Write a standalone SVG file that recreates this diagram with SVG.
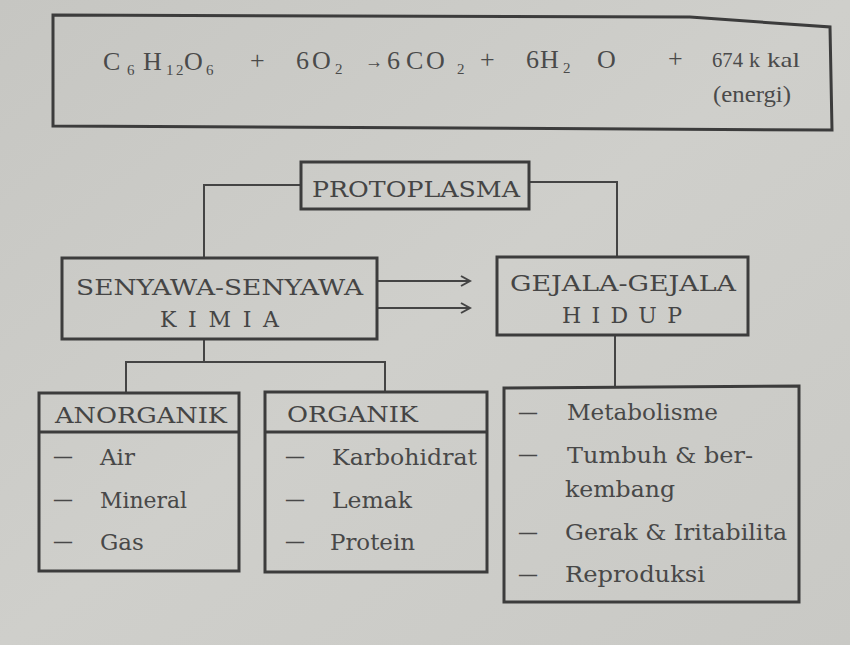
<svg xmlns="http://www.w3.org/2000/svg" width="850" height="645" viewBox="0 0 850 645">
<defs>
<linearGradient id="bg" x1="0" y1="0" x2="1" y2="1">
<stop offset="0" stop-color="#c6c6c2"/>
<stop offset="0.5" stop-color="#cfcfcb"/>
<stop offset="1" stop-color="#c9c9c5"/>
</linearGradient>
<marker id="ah" markerWidth="12" markerHeight="12" refX="10" refY="6" orient="auto" markerUnits="userSpaceOnUse">
<path d="M1,1 L10,6 L1,11" fill="none" stroke="#444" stroke-width="2"/>
</marker>
</defs>
<style>
.box{fill:none;stroke:#3c3c3c;stroke-width:3}
.con{fill:none;stroke:#444;stroke-width:2}
.eq{font-family:"Liberation Serif",serif;font-size:26px;fill:#4a4a4a}
.sub{font-family:"Liberation Serif",serif;font-size:15px;fill:#4a4a4a}
.lbl{font-family:"DejaVu Serif",serif;font-size:22px;fill:#454545}
.itm{font-family:"DejaVu Serif",serif;font-size:23px;fill:#484848}
</style>
<rect width="850" height="645" fill="url(#bg)"/>

<g id="equation">
<path class="box" d="M53,15 L690,17 L830,27 L832,130 L53,126 Z"/>
<text class="eq" x="103" y="70">C</text>
<text class="sub" x="127" y="75">6</text>
<text class="eq" x="143" y="70">H</text>
<text class="sub" x="166" y="75">1</text>
<text class="sub" x="176" y="75">2</text>
<text class="eq" x="184" y="70">O</text>
<text class="sub" x="206" y="75">6</text>
<text class="eq" x="250" y="69">+</text>
<text class="eq" x="296" y="69">6</text>
<text class="eq" x="312" y="69">O</text>
<text class="sub" x="335" y="74">2</text>
<text class="eq" x="365" y="68" style="font-size:20px" textLength="18" lengthAdjust="spacingAndGlyphs">→</text>
<text class="eq" x="387" y="69">6</text>
<text class="eq" x="406" y="69">C</text>
<text class="eq" x="426" y="69">O</text>
<text class="sub" x="457" y="74">2</text>
<text class="eq" x="480" y="68">+</text>
<text class="eq" x="526" y="68">6</text>
<text class="eq" x="540" y="68">H</text>
<text class="sub" x="563" y="73">2</text>
<text class="eq" x="597" y="68">O</text>
<text class="eq" x="668" y="67">+</text>
<text class="eq" x="712" y="67" style="font-size:22px" textLength="31" lengthAdjust="spacingAndGlyphs">674</text>
<text class="eq" x="749" y="67" style="font-size:22px">k</text>
<text class="eq" x="767" y="67" style="font-size:22px" textLength="33" lengthAdjust="spacingAndGlyphs">kal</text>
<text class="eq" x="713" y="102" style="font-size:24px" textLength="78" lengthAdjust="spacingAndGlyphs">(energi)</text>
</g>

<g id="connectors">
<polyline class="con" points="301,185 204,185 204,258"/>
<polyline class="con" points="529,182 617,182 617,257"/>
<line class="con" x1="377" y1="281" x2="470" y2="281" marker-end="url(#ah)"/>
<line class="con" x1="377" y1="308" x2="470" y2="308" marker-end="url(#ah)"/>
<polyline class="con" points="204,339 204,362"/>
<polyline class="con" points="126,393 126,362 385,362 385,392"/>
<polyline class="con" points="615,335 615,388"/>
</g>

<g id="protoplasma">
<rect class="box" x="301" y="162" width="228" height="47"/>
<text class="lbl" x="312" y="197" textLength="208" lengthAdjust="spacingAndGlyphs">PROTOPLASMA</text>
</g>

<g id="senyawa">
<rect class="box" x="62" y="258" width="315" height="81"/>
<text class="lbl" x="76" y="295" textLength="287" lengthAdjust="spacingAndGlyphs">SENYAWA-SENYAWA</text>
<text class="lbl" x="160" y="327" textLength="119" lengthAdjust="spacing">K I M I A</text>
</g>

<g id="gejala">
<rect class="box" x="497" y="257" width="251" height="78"/>
<text class="lbl" x="510" y="291" textLength="226" lengthAdjust="spacingAndGlyphs">GEJALA-GEJALA</text>
<text class="lbl" x="562" y="323" textLength="120" lengthAdjust="spacing">H I D U P</text>
</g>

<g id="anorganik">
<rect class="box" x="39" y="393" width="200" height="178"/>
<line class="box" x1="39" y1="432" x2="239" y2="432"/>
<text class="lbl" x="55" y="423" textLength="172" lengthAdjust="spacingAndGlyphs">ANORGANIK</text>
<text class="itm" x="53" y="464" textLength="20" lengthAdjust="spacingAndGlyphs">—</text>
<text class="itm" x="100" y="465">Air</text>
<text class="itm" x="53" y="507" textLength="20" lengthAdjust="spacingAndGlyphs">—</text>
<text class="itm" x="100" y="508" textLength="87" lengthAdjust="spacingAndGlyphs">Mineral</text>
<text class="itm" x="53" y="549" textLength="20" lengthAdjust="spacingAndGlyphs">—</text>
<text class="itm" x="100" y="550">Gas</text>
</g>

<g id="organik">
<rect class="box" x="265" y="392" width="222" height="180"/>
<line class="box" x1="265" y1="432" x2="487" y2="432"/>
<text class="lbl" x="287" y="422" textLength="131" lengthAdjust="spacingAndGlyphs">ORGANIK</text>
<text class="itm" x="285" y="464" textLength="20" lengthAdjust="spacingAndGlyphs">—</text>
<text class="itm" x="332" y="465" textLength="145" lengthAdjust="spacingAndGlyphs">Karbohidrat</text>
<text class="itm" x="285" y="507" textLength="20" lengthAdjust="spacingAndGlyphs">—</text>
<text class="itm" x="332" y="508" textLength="80" lengthAdjust="spacingAndGlyphs">Lemak</text>
<text class="itm" x="285" y="549" textLength="20" lengthAdjust="spacingAndGlyphs">—</text>
<text class="itm" x="330" y="550" textLength="85" lengthAdjust="spacingAndGlyphs">Protein</text>
</g>

<g id="gejala-list">
<path class="box" d="M504,388 L799,386 L799,602 L504,602 Z"/>
<text class="itm" x="518" y="420" textLength="20" lengthAdjust="spacingAndGlyphs">—</text>
<text class="itm" x="567" y="420" textLength="151" lengthAdjust="spacingAndGlyphs">Metabolisme</text>
<text class="itm" x="518" y="462" textLength="20" lengthAdjust="spacingAndGlyphs">—</text>
<text class="itm" x="567" y="463" textLength="186" lengthAdjust="spacingAndGlyphs">Tumbuh &amp; ber-</text>
<text class="itm" x="565" y="497" textLength="110" lengthAdjust="spacingAndGlyphs">kembang</text>
<text class="itm" x="518" y="540" textLength="20" lengthAdjust="spacingAndGlyphs">—</text>
<text class="itm" x="565" y="540" textLength="222" lengthAdjust="spacingAndGlyphs">Gerak &amp; Iritabilita</text>
<text class="itm" x="518" y="582" textLength="20" lengthAdjust="spacingAndGlyphs">—</text>
<text class="itm" x="565" y="582" textLength="140" lengthAdjust="spacingAndGlyphs">Reproduksi</text>
</g>
</svg>
